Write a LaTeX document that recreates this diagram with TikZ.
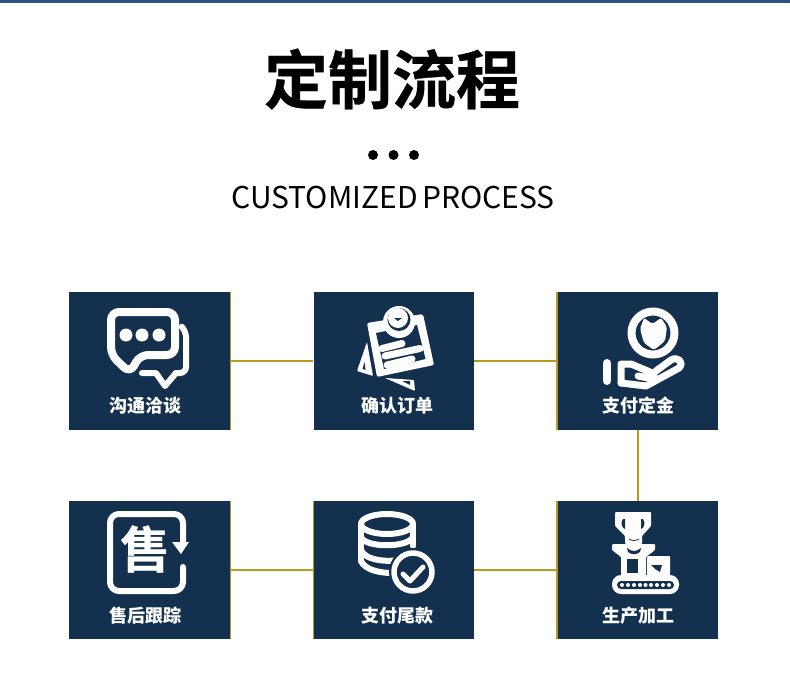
\documentclass[tikz,border=0pt]{standalone}
\usepackage{fontspec}
\setmainfont{Noto Sans CJK SC}
\newfontfamily\heavyfont[FakeBold=0.5]{Noto Sans CJK SC Bold}
\definecolor{boxnavy}{HTML}{14304F}
\definecolor{topblue}{HTML}{2B5280}
\definecolor{linegold}{HTML}{B89B1E}
\tikzset{
  stepbox/.style={rectangle,fill=boxnavy,minimum width=161pt,minimum height=138pt,inner sep=0pt},
  steptext/.style={text=white,inner sep=0pt,font=\bfseries\fontsize{18}{18}\selectfont},
  link/.style={draw=linegold,line width=2pt},
  edge/.style={draw=linegold,line width=0.9pt},
  icon/.style={draw=white,line cap=round,line join=round,line width=7pt},
  iconthin/.style={icon,line width=5.5pt}
}
\begin{document}
\begin{tikzpicture}[x=1pt,y=-1pt]
\useasboundingbox (0,0) rectangle (790,687);
\fill[topblue] (0,0) rectangle (790,3.5);

\node[inner sep=0pt,font=\heavyfont\fontsize{64}{64}\selectfont] (title) at (392,79) {定制流程};
\fill (373,155) circle (5);
\fill (393.5,155) circle (5);
\fill (414,155) circle (5);
\node[inner sep=0pt,font=\fontsize{30}{30}\selectfont] (subtitle) at (393,197.5) {CUSTOMIZED\hskip4.5pt PROCESS};

\node[stepbox] (talk) at (149.5,361) {};
\node[stepbox,minimum width=160.5pt] (confirm) at (393.75,361) {};
\node[stepbox] (deposit) at (637.5,361) {};
\node[stepbox] (service) at (149.5,570) {};
\node[stepbox,minimum width=160.5pt] (balance) at (393.75,570) {};
\node[stepbox] (produce) at (637.5,570) {};

\draw[link] (talk) -- (confirm);
\draw[link] (confirm) -- (deposit);
\draw[link] (deposit) -- (produce);
\draw[link] (produce) -- (balance);
\draw[link] (balance) -- (service);
\draw[edge] (talk.north east) -- (talk.south east);
\draw[edge] (service.north east) -- (service.south east);
\draw[edge] (balance.north west) -- (balance.south west);
\draw[edge,line width=1.4pt] (deposit.north west) -- (deposit.south west);
\draw[edge,line width=1.4pt] (produce.north west) -- (produce.south west);

\node[steptext] (talktext) at (145,406) {沟通洽谈};
\node[steptext] (confirmtext) at (397.5,406) {确认订单};
\node[steptext] (deposittext) at (638.5,406) {支付定金};
\node[steptext] (servicetext) at (145,615.5) {售后跟踪};
\node[steptext] (balancetext) at (397.5,615.5) {支付尾款};
\node[steptext] (producetext) at (638.5,615.5) {生产加工};

% talk
\draw[icon,line width=8pt,rounded corners=8pt] (130,373) -- (111,355) -- (111,312) -- (175,312) -- (175,355) -- (140,355) -- cycle;
\fill[white] (126,335) circle (6.5);
\fill[white] (142,335) circle (6.5);
\fill[white] (159,335) circle (6.5);
\draw[iconthin,line width=6pt,rounded corners=6pt] (182,327) -- (186,331) -- (186,373) -- (176,373);
\draw[iconthin,line width=6pt] (176,373) -- (165,386) -- (156,373) -- (142,373);

% confirm
\fill[white,rounded corners=1pt] (367,342) -- (357,371) -- (373,376) -- cycle;
\fill[boxnavy] (364.5,362) -- (362.5,369) -- (365.5,370) -- cycle;
\fill[white,rounded corners=1pt] (385,378) -- (415,391) -- (414,380) -- cycle;
\fill[boxnavy] (402,381) -- (410,385) -- (410,381) -- cycle;
\fill[white,rounded corners=2pt] (367,323) -- (423,314) -- (434,365) -- (377,377) -- cycle;
\fill[boxnavy] (376,333) -- (417,325) -- (425.5,359) -- (384,369) -- cycle;
\fill[white] (399,322) circle (16);
\fill[boxnavy] (399,319.5) circle (11.5);
\fill[white] (398,318) circle (10);
\fill[white] (398,309) -- (392,316) -- (404,316) -- cycle;
\fill[boxnavy] (394,318) -- (402,318) -- (398,321) -- cycle;
\draw[icon] (382,348.5) -- (402,343.5);
\draw[icon] (385,356) -- (420,348.5);
\draw[icon] (387,365) -- (412,359);

% deposit
\draw[icon,line width=8pt] (653,333) circle (21.5);
\fill[white,rounded corners=2pt] (644,318) -- (652.5,324) -- (661,318) -- (667,327) -- (665,341) -- (654,350) -- (644,343) -- (640,329) -- cycle;
\draw[icon,line width=8pt] (607,363) -- (607,381);
\draw[icon,line width=7pt] (621,383) -- (621,364) -- (631,364) -- (650,372) .. controls (657,375) and (655,379) .. (648,378) -- (638,376);
\draw[icon,line width=7pt] (621,383) -- (646,386) -- (679,368) .. controls (685,362) and (677,356) .. (671,360) -- (656,371);

% service
\draw[iconthin,line width=6pt,rounded corners=9pt] (183,543) -- (183,514) -- (110,514) -- (110,591) -- (183,591) -- (183,567);
\fill[white] (172,542) -- (189,542) -- (181,554) -- cycle;
\node[text=white,inner sep=0pt,font=\heavyfont\fontsize{50}{50}\selectfont] (serviceglyph) at (145,549) {售};

% balance
\draw[iconthin,line width=6pt] (387,524) ellipse (26 and 10);
\draw[iconthin,line width=6pt] (361,524) -- (361,561);
\draw[iconthin,line width=6pt] (413,524) -- (413,546);
\draw[iconthin,line width=6pt] (361,537) .. controls (365,548) and (408,548) .. (413,537);
\draw[iconthin,line width=6pt] (361,550) .. controls (365,561) and (390,562) .. (398,560);
\draw[iconthin,line width=6pt] (361,561) .. controls (365,570) and (380,573) .. (392,573);
\fill[boxnavy] (413,572) circle (24);
\draw[iconthin] (413,572) circle (19);
\draw[icon,line width=5pt] (403,574) -- (410,581) -- (423,567);

% produce
\fill[white,rounded corners=1pt] (615,512) -- (651,512) -- (651,526) -- (642,536) -- (642,544) -- (625,544) -- (625,536) -- (615,526) -- cycle;
\fill[boxnavy] (623,519) .. controls (620,523) and (622,528) .. (625,529) -- (625,519) -- cycle;
\fill[boxnavy] (643,519) .. controls (646,523) and (644,528) .. (641,529) -- (641,519) -- cycle;
\draw[boxnavy,line width=0.8pt] (629,539) .. controls (632,541) and (636,541) .. (639,539);
\fill[white,rounded corners=1pt] (612,544) -- (655,544) -- (655,550) -- (646,557) -- (646,576) -- (621,576) -- (621,557) -- (612,550) -- cycle;
\fill[boxnavy] (627,548) .. controls (632,552) and (636,552) .. (641,548) -- (640,552) .. controls (636,555) and (632,555) .. (628,552) -- cycle;
\fill[boxnavy] (627,559) -- (638,559) -- (638,573) -- (627,573) -- cycle;
\fill[white,rounded corners=1pt] (647,556) -- (670,556) -- (670,576) -- (647,576) -- cycle;
\fill[boxnavy] (651,565) -- (662,565) -- (660,572) -- (655,569) -- cycle;
\fill[white,rounded corners=9pt] (612,575) rectangle (679,594);
\fill[boxnavy,rounded corners=4pt] (617,581) rectangle (674,589);
\foreach \dotx in {622,628,634,640,645.5,651,657,663,669}
  \fill[white] (\dotx,585) circle (2);
\end{tikzpicture}
\end{document}
